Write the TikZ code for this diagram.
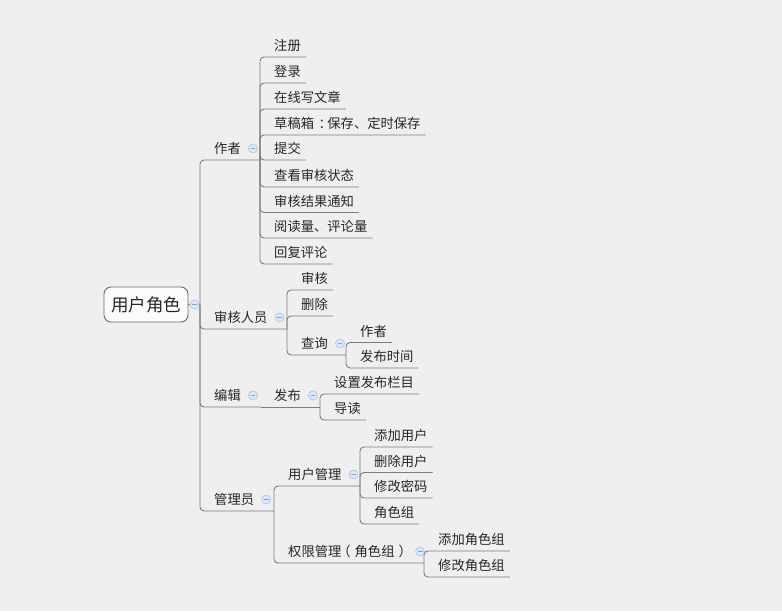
\documentclass[tikz,border=0pt]{standalone}
\usepackage{fontspec}
\newfontfamily\cjk{Noto Sans CJK SC}
\usetikzlibrary{calc}
\definecolor{bgc}{HTML}{EFEFEF}
\definecolor{linec}{HTML}{7C7C7C}
\definecolor{txtc}{HTML}{262626}
\definecolor{rootb}{HTML}{6B6B6B}
\definecolor{rootf}{HTML}{FBFBFB}
\definecolor{foldb}{HTML}{A9C3EA}
\definecolor{foldf}{HTML}{DCE7F7}
\definecolor{foldm}{HTML}{7FA3DA}
\newcommand\leafnode[5]{%
  \node[txt] (#1) at (#3,#4-6.5) {#5};
  \draw[conn] (#2) |- ([xshift=5pt,yshift=-6.5pt]#1.base east);
}
\newcommand\foldat[2]{%
  \node[fold] (#1) at ([xshift=12pt,yshift=5pt]#2.base east) {};
}
\begin{document}
\begin{tikzpicture}[x=1pt,y=-1pt,
  txt/.style={font=\cjk\fontsize{13.3}{16}\selectfont, text=txtc, inner sep=0pt, anchor=base west},
  conn/.style={draw=linec, line width=0.9pt, rounded corners=4pt},
  rootbox/.style={draw=rootb, fill=rootf, line width=0.9pt, rounded corners=7pt,
    minimum width=84pt, minimum height=35pt, inner sep=0pt, text=txtc,
    font=\cjk\fontsize{17.5}{20}\selectfont},
  fold/.style={circle, draw=foldb, fill=foldf, line width=0.6pt, minimum size=9pt, inner sep=0pt,
    path picture={\draw[foldm,line width=0.8pt]
      ([xshift=-2.4pt]path picture bounding box.center) --
      ([xshift=2.4pt]path picture bounding box.center);}}
]
\useasboundingbox[fill=bgc] (0,0) rectangle (782,611);

% root
\node[rootbox] (root) at (146,304.5) {用户角色};
\coordinate (rJ) at (200,304.5);
\draw[conn] (root.east) -- (rJ);

% level 1
\coordinate (aJ) at (260,160);
\coordinate (bJ) at (287,329);
\coordinate (cJ) at (261,407);
\coordinate (dJ) at (274,511);
\node[txt] (a) at (214,160-6.5) {作者};
\node[txt] (b) at (214,329-6.5) {审核人员};
\node[txt] (c) at (214,407-6.5) {编辑};
\node[txt] (d) at (214,511-6.5) {管理员};
\draw[conn] (rJ) |- (aJ);
\draw[conn] (rJ) |- (bJ);
\draw[conn] (rJ) |- (cJ);
\draw[conn] (rJ) |- (dJ);

% 作者
\leafnode{a1}{aJ}{274}{57}{注册}
\leafnode{a2}{aJ}{274}{83}{登录}
\leafnode{a3}{aJ}{274}{109}{在线写文章}
\leafnode{a4}{aJ}{274}{135}{草稿箱\kern4.5pt：\kern-4.5pt保存、定时保存}
\leafnode{a5}{aJ}{274}{160}{提交}
\leafnode{a6}{aJ}{274}{187}{查看审核状态}
\leafnode{a7}{aJ}{274}{212.5}{审核结果通知}
\leafnode{a8}{aJ}{274}{238}{阅读量、评论量}
\leafnode{a9}{aJ}{274}{264}{回复评论}

% 审核人员
\leafnode{b1}{bJ}{301}{290}{审核}
\leafnode{b2}{bJ}{301}{316}{删除}
\coordinate (b3J) at (346,355);
\node[txt] (b3) at (301,355-6.5) {查询};
\draw[conn] (bJ) |- (b3J);
\leafnode{b31}{b3J}{360}{342.5}{作者}
\leafnode{b32}{b3J}{360}{368}{发布时间}

% 编辑
\coordinate (c1J) at (320,407);
\node[txt] (c1) at (274,407-6.5) {发布};
\draw[conn] (cJ) -- (c1J);
\leafnode{c11}{c1J}{334}{394}{设置发布栏目}
\leafnode{c12}{c1J}{334}{420}{导读}

% 管理员
\coordinate (d1J) at (360,486);
\node[txt] (d1) at (288,486-6.5) {用户管理};
\draw[conn] (dJ) |- (d1J);
\leafnode{d11}{d1J}{374}{447}{添加用户}
\leafnode{d12}{d1J}{374}{472.5}{删除用户}
\leafnode{d13}{d1J}{374}{498}{修改密码}
\leafnode{d14}{d1J}{374}{524}{角色组}
\coordinate (d2J) at (424,563);
\node[txt] (d2) at (288,563-6.5) {权限管理\kern-4pt（\kern4pt角色组\kern4pt）\kern-4pt};
\draw[conn] (dJ) |- (d2J);
\leafnode{d21}{d2J}{438}{551}{添加角色组}
\leafnode{d22}{d2J}{438}{577}{修改角色组}

% fold markers
\node[fold] (rootF) at (194.5,304.5) {};
\foldat{aF}{a}
\foldat{bF}{b}
\foldat{cF}{c}
\foldat{dF}{d}
\foldat{b3F}{b3}
\foldat{c1F}{c1}
\foldat{d1F}{d1}
\foldat{d2F}{d2}
\end{tikzpicture}
\end{document}
